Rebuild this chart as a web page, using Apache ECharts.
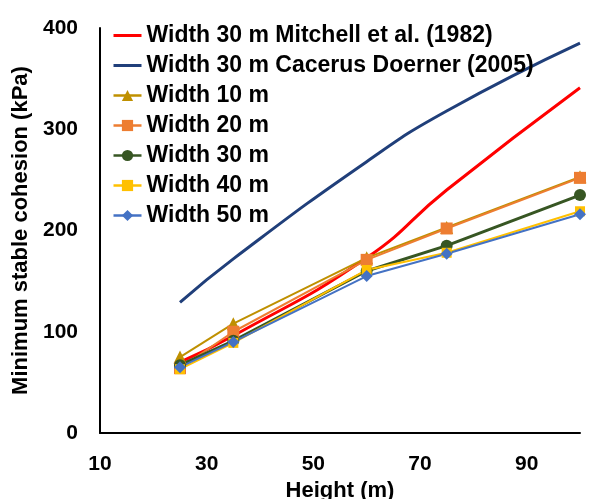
<!DOCTYPE html>
<html lang="en">
<head>
    <meta charset="UTF-8">
    <title>Minimum stable cohesion</title>
    <script src="https://cdn.jsdelivr.net/npm/echarts@6.0.0/dist/echarts.min.js"></script>
</head>
<body style="margin:0;background:#fff;">
    <div id="main" style="width:601px;height:499px;"></div>
    <script>
        // heights (m)
        const heights = [25, 35, 60, 75, 100];
        const mitchell = [70, 96, 173, 240, 341];
        const cacerus = [129, 172, 268, 318, 385];
        const width10 = [75, 108, 173, 203, 253];
        const width20 = [64, 100, 171, 202, 252];
        const width30 = [67, 91, 160, 185, 235];
        const width40 = [63, 89, 161, 178, 219];
        const width50 = [65, 90, 155, 177, 216];
        const xTicks = [10, 30, 50, 70, 90];

        const pairs = (ys) => heights.map((h, i) => [h, ys[i]]);

        const myChart = echarts.init(document.getElementById('main'));
        const font = 'Arial, "Liberation Sans", sans-serif';

        function lineSeries(name, data, color, symbol, width, smooth, size) {
            return {
                name: name,
                type: 'line',
                data: pairs(data),
                smooth: smooth,
                symbol: symbol,
                symbolSize: size,
                showSymbol: symbol !== 'none',
                lineStyle: { color: color, width: width },
                itemStyle: { color: color },
                z: 2
            };
        }

        const names = [
            'Width 30 m Mitchell et al. (1982)',
            'Width 30 m Cacerus Doerner (2005)',
            'Width 10 m', 'Width 20 m', 'Width 30 m', 'Width 40 m', 'Width 50 m'
        ];

        const option = {
            backgroundColor: '#fff',
            animation: false,
            grid: { left: 100, right: 21, top: 28, bottom: 66, outerBoundsMode: 'none' },
            legend: {
                orient: 'vertical',
                left: 112,
                top: 24,
                padding: 0,
                itemWidth: 28,
                itemHeight: 14,
                itemGap: 7,
                data: names.map((n, i) => i < 2
                    ? { name: n, itemStyle: { opacity: 0 }, lineStyle: { width: 3 } }
                    : { name: n, lineStyle: { width: 2.5 } }),
                textStyle: { fontFamily: font, fontWeight: 'bold', fontSize: 23, color: '#000', lineHeight: 23 }
            },
            xAxis: {
                type: 'value',
                min: 10,
                max: 100,
                interval: 20,
                name: 'Height (m)',
                nameLocation: 'middle',
                nameGap: 42,
                nameTextStyle: { fontFamily: font, fontWeight: 'bold', fontSize: 22, color: '#000' },
                axisLine: { lineStyle: { color: '#000', width: 2 } },
                axisTick: { show: false },
                splitLine: { show: false },
                axisLabel: {
                    fontFamily: font, fontWeight: 'bold', fontSize: 21, color: '#000', margin: 21,
                    showMaxLabel: false,
                    formatter: (v) => xTicks.includes(v) ? v : ''
                }
            },
            yAxis: {
                type: 'value',
                min: 0,
                max: 400,
                interval: 100,
                name: 'Minimum stable cohesion (kPa)',
                nameLocation: 'middle',
                nameGap: 67,
                nameTextStyle: { fontFamily: font, fontWeight: 'bold', fontSize: 22, color: '#000' },
                axisLine: { show: true, lineStyle: { color: '#000', width: 2 } },
                axisTick: { show: false },
                splitLine: { show: false },
                axisLabel: { fontFamily: font, fontWeight: 'bold', fontSize: 21, color: '#000', margin: 22 }
            },
            series: [
                lineSeries(names[0], mitchell, '#ff0000', 'none', 3, true, 0),
                lineSeries(names[1], cacerus, '#203f7a', 'none', 3, true, 0),
                lineSeries(names[2], width10, '#bf9000', 'triangle', 2, false, 13),
                lineSeries(names[3], width20, '#ed7d31', 'rect', 2, false, 12),
                lineSeries(names[4], width30, '#375623', 'circle', 3, false, 12),
                lineSeries(names[5], width40, '#ffc000', 'rect', 2, false, 10),
                lineSeries(names[6], width50, '#4472c4', 'diamond', 2, false, 12)
            ]
        };

        myChart.setOption(option);
    </script>
</body>
</html>
